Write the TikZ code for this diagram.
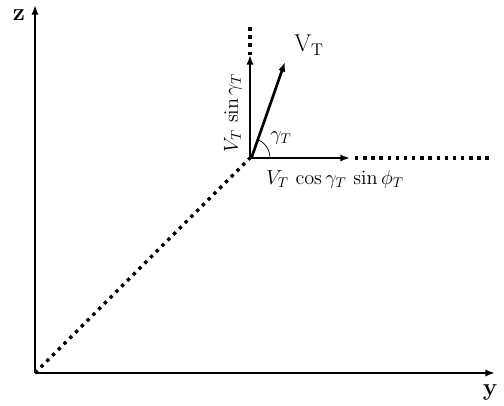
\documentclass[tikz,border=0pt]{standalone}
\usepackage{tikz}
\usetikzlibrary{arrows.meta,positioning}

\begin{document}
\begin{tikzpicture}[
    axis/.style={line width=1.9pt,-{Latex[length=2.4mm,width=1.8mm]}},
    comp/.style={line width=1.9pt,-{Latex[length=2.4mm,width=1.8mm]}},
    dotline/.style={line width=2.4pt,dash pattern=on 2.4pt off 3.4pt},
    lbl/.style={font=\Large,inner sep=1pt}
]
\useasboundingbox (-0.875,-0.825) rectangle (11.725,9.325);

% Points
\coordinate (O) at (0,0);
\coordinate (ztop) at (0,9.2);
\coordinate (yend) at (11.5,0);
\coordinate (P) at (5.375,5.375);
\coordinate (vtop) at (5.375,7.95);
\coordinate (vdot) at (5.375,8.65);
\coordinate (hend) at (7.875,5.375);
\coordinate (hdot1) at (8.0,5.375);
\coordinate (hdot2) at (11.35,5.375);
\coordinate (vt) at (6.25,7.775);

% Axes
\draw[axis] (O) -- (ztop);
\draw[axis] (O) -- (yend);
\node[font=\LARGE\bfseries] (zlbl) at (-0.4,8.95) {z};
\node[font=\LARGE\bfseries] (ylbl) at (11.375,-0.5) {y};

% Dotted guides
\draw[dotline] (O) -- (P);
\draw[dotline] (vtop) -- (vdot);
\draw[dotline] (hdot1) -- (hdot2);

% Components and velocity
\draw[comp] (P) -- (vtop);
\draw[comp] (P) -- (hend);
\draw[comp] ([xshift=1pt]P) -- (vt);
\draw[line width=0.5pt] ([shift={(70:0.5)}]P) arc[start angle=70,end angle=0,radius=0.5];

% Labels
\node[font=\LARGE,inner sep=1pt] (vtlbl) at (6.85,8.2) {$\mathrm{V_T}$};
\node[lbl] (gamlbl) at (6.15,5.875) {$\gamma_T$};
\node[lbl,rotate=90] (vslbl) at (4.95,6.5) {$V_T\,\sin\gamma_T$};
\node[lbl] (hclbl) at (7.5,4.85) {$V_T\,\cos\gamma_T\,\sin\phi_T$};

\end{tikzpicture}
\end{document}
